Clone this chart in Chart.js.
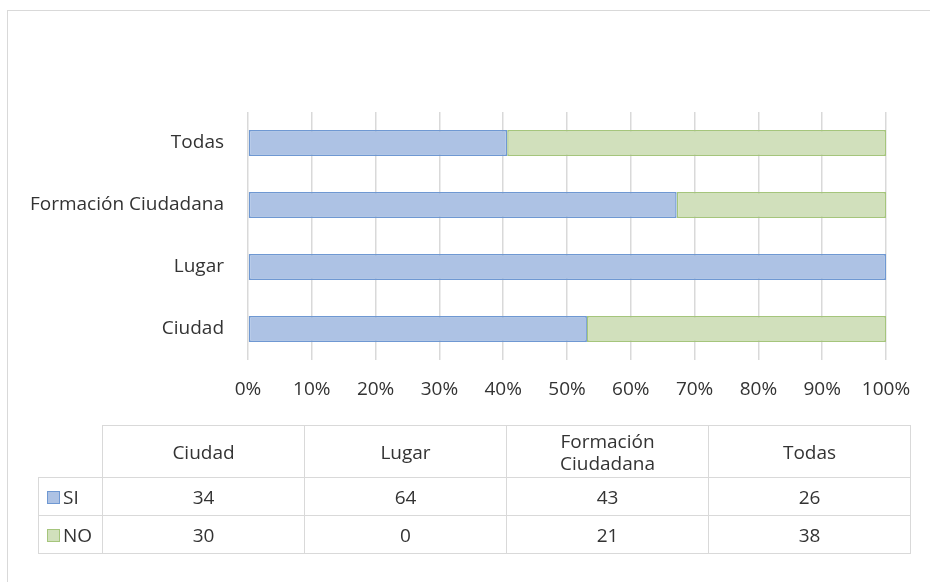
<!DOCTYPE html>
<html>
<head>
<meta charset="utf-8">
<script src="https://cdn.jsdelivr.net/npm/chart.js@4"></script>
<style>
  html, body { margin: 0; padding: 0; background: #fff; }
  #wrap { position: relative; width: 930px; height: 582px; overflow: hidden; }
  #frame { position: absolute; left: 7px; top: 10px; width: 1000px; height: 1000px;
           border-top: 1.5px solid #d9d9d9; border-left: 1.5px solid #d9d9d9; }
  #chart { position: absolute; left: 0; top: 0; }
  #tabla { position: absolute; left: 38px; top: 425px; border-collapse: collapse;
           font-family: "Open Sans", sans-serif; font-size: 19px; color: #333; }
  #tabla td { border: 1.5px solid #d9d9d9; text-align: center; padding: 0; }
  #tabla tr.head td { height: 51px; line-height: 22px; }
  #tabla tr.fila td { height: 37px; }
  #tabla td.vacio { border-top: none; border-left: none; }
  #tabla td.serie { text-align: left; padding-left: 8px; width: 55px; }
  .clave { display: inline-block; width: 11px; height: 11px; margin-right: 3px; vertical-align: 0px; }
</style>
</head>
<body>
<div id="wrap">
  <div id="frame"></div>
  <canvas id="chart" width="930" height="582"></canvas>
  <table id="tabla"></table>
</div>
<script>
const categorias = ['Ciudad', 'Lugar', 'Formación Ciudadana', 'Todas'];
const cabeceras = ['Ciudad', 'Lugar', 'Formación<br>Ciudadana', 'Todas'];
const valoresSi = [34, 64, 43, 26];
const valoresNo = [30, 0, 21, 38];
const ticksX = [0, 10, 20, 30, 40, 50, 60, 70, 80, 90, 100];

const azulFondo = '#adc2e4';
const azulBorde = '#6f98d2';
const verdeFondo = '#d1e0bc';
const verdeBorde = '#a5c57c';

const porcentaje = (v, i) => v / (valoresSi[i] + valoresNo[i]) * 100;

new Chart(document.getElementById('chart'), {
    type: 'bar',
    data: {
        labels: categorias,
        datasets: [{
            label: 'SI',
            data: valoresSi.map(porcentaje),
            backgroundColor: azulFondo,
            borderColor: azulBorde,
            borderWidth: 1.5,
            borderSkipped: false
        }, {
            label: 'NO',
            data: valoresNo.map(porcentaje),
            backgroundColor: verdeFondo,
            borderColor: verdeBorde,
            borderWidth: 1.5,
            borderSkipped: false
        }]
    },
    options: {
        indexAxis: 'y',
        responsive: false,
        animation: false,
        barPercentage: 1,
        categoryPercentage: 0.42,
        layout: { padding: { left: 8, right: 44, top: 112, bottom: 172 } },
        plugins: { legend: { display: false }, tooltip: { enabled: false } },
        scales: {
            x: {
                stacked: true,
                min: 0,
                max: 100,
                afterBuildTicks: scale => { scale.ticks = ticksX.map(v => ({ value: v })); },
                afterFit: scale => { scale.height = 50; },
                grid: { color: '#d9d9d9', lineWidth: 1.5, drawTicks: false },
                border: { display: false },
                ticks: {
                    padding: 18,
                    color: '#333',
                    font: { family: 'Open Sans', size: 19 },
                    callback: v => v + '%'
                }
            },
            y: {
                stacked: true,
                reverse: true,
                afterFit: scale => { scale.width = 240; },
                grid: { display: false, drawTicks: false },
                border: { display: false },
                ticks: {
                    padding: 24,
                    color: '#333',
                    font: { family: 'Open Sans', size: 19 }
                }
            }
        }
    }
});

// tabla de datos
const tabla = document.getElementById('tabla');
let html = '<tr class="head"><td class="vacio"></td>';
cabeceras.forEach(c => { html += '<td style="width:201px">' + c + '</td>'; });
html += '</tr>';
[['SI', valoresSi, azulFondo, azulBorde], ['NO', valoresNo, verdeFondo, verdeBorde]].forEach(([nombre, valores, fondo, borde]) => {
    html += '<tr class="fila"><td class="serie"><span class="clave" style="background:' + fondo +
        ';border:1px solid ' + borde + '"></span>' + nombre + '</td>';
    valores.forEach(v => { html += '<td>' + v + '</td>'; });
    html += '</tr>';
});
tabla.innerHTML = html;
</script>
</body>
</html>
